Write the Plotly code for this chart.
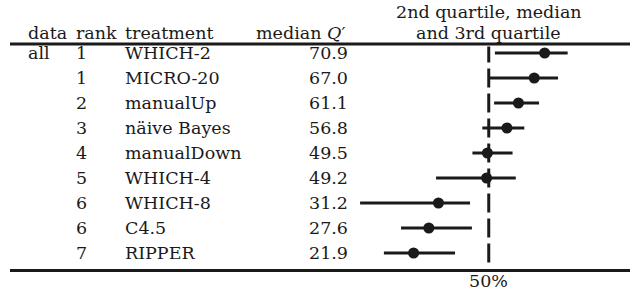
import plotly.graph_objects as go

data_labels = ["all", "", "", "", "", "", "", "", ""]
ranks = ["1", "1", "2", "3", "4", "5", "6", "6", "7"]
treatments = ["WHICH-2", "MICRO-20", "manualUp", "näive Bayes", "manualDown",
              "WHICH-4", "WHICH-8", "C4.5", "RIPPER"]
medians = [70.9, 67.0, 61.1, 56.8, 49.5, 49.2, 31.2, 27.6, 21.9]
q_low = [52.3, 50.4, 52.0, 47.6, 43.9, 30.3, 1.9, 17.2, 10.8]
q_high = [79.5, 75.9, 68.8, 63.3, 58.9, 60.1, 43.0, 43.7, 37.4]
ref_value = 50
ref_label = "50%"

FONT = "DejaVu Serif"
FS = 17.5
COL = "#1a1a1a"
W, H = 630, 296

n = len(treatments)
rows = list(range(n))

fig = go.Figure()

# dashed reference line (one dash per row)
dx, dy = [], []
for i in rows:
    top = max(i - 0.38, -0.26)
    dx += [ref_value, ref_value, None]
    dy += [top, i + 0.38, None]
fig.add_trace(go.Scatter(x=dx, y=dy, mode="lines",
                         line=dict(color=COL, width=3), hoverinfo="skip",
                         showlegend=False))

# quartile ranges
lx, ly = [], []
for i in rows:
    lx += [q_low[i], q_high[i], None]
    ly += [i, i, None]
fig.add_trace(go.Scatter(x=lx, y=ly, mode="lines",
                         line=dict(color=COL, width=3), hoverinfo="skip",
                         showlegend=False))

# medians
fig.add_trace(go.Scatter(x=medians, y=rows, mode="markers",
                         marker=dict(color=COL, size=11), showlegend=False))

ann = []
def txt(x_px, y, s, anchor="left", size=FS):
    ann.append(dict(x=x_px / W, xref="paper", y=y, yref="y", text=s,
                    showarrow=False, xanchor=anchor, yanchor="middle",
                    font=dict(family=FONT, size=size, color=COL)))

def ctr(y, s):
    ann.append(dict(x=ref_value, xref="x", y=y, yref="y", text=s,
                    showarrow=False, xanchor="center", yanchor="middle",
                    font=dict(family=FONT, size=FS, color=COL)))

hy = -0.8
txt(26, hy, "data")
txt(74, hy, "rank")
txt(123, hy, "treatment")
txt(347, hy, "median <i>Q</i>′", "right")
ctr(-1.64, "2nd quartile, median")
ctr(hy, "and 3rd quartile")

for i in rows:
    if data_labels[i]:
        txt(26, i, data_labels[i])
    txt(74, i, ranks[i])
    txt(123, i, treatments[i])
    txt(350, i, f"{medians[i]:.1f}", "right")

ctr(9.1, ref_label)

shapes = [
    dict(type="line", xref="paper", yref="y", x0=10 / W, x1=1, y0=-0.36, y1=-0.36,
         line=dict(color=COL, width=3)),
    dict(type="line", xref="paper", yref="y", x0=10 / W, x1=1, y0=8.7, y1=8.7,
         line=dict(color=COL, width=3)),
]

fig.update_layout(
    width=W, height=H, margin=dict(l=0, r=0, t=0, b=0),
    paper_bgcolor="white", plot_bgcolor="white",
    xaxis=dict(range=[-355 / 2.675, (630 - 355) / 2.675], visible=False, fixedrange=True),
    yaxis=dict(range=[(296 - 53) / 25, -53 / 25], visible=False, fixedrange=True),
    annotations=ann, shapes=shapes, showlegend=False,
)

fig.write_html("out.html", config={"displayModeBar": False, "staticPlot": True},
               post_script="document.body.style.margin='0';document.body.style.overflow='hidden';")
